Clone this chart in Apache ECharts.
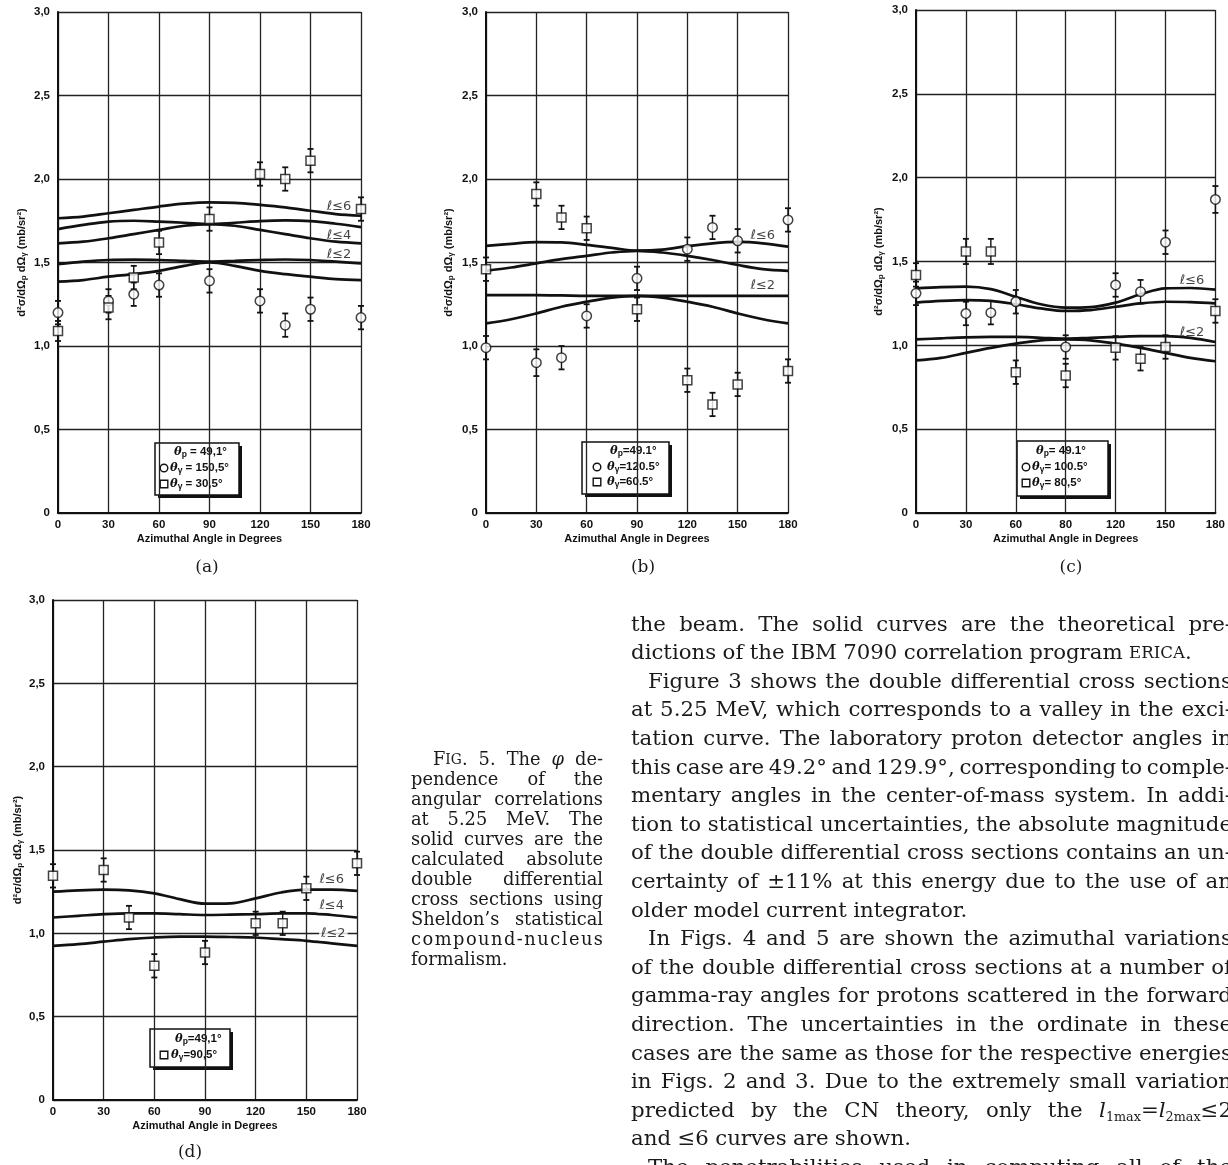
<!DOCTYPE html>
<html><head><meta charset="utf-8">
<script src="https://cdn.jsdelivr.net/npm/echarts@6/dist/echarts.min.js"></script>
<style>html,body{margin:0;padding:0;background:#fff}#c{width:1228px;height:1165px}</style>
</head><body><div id="c"></div>
<script>
// ---------------- DATA ----------------
const curveX = [0,15,30,45,60,75,90,105,120,135,150,165,180];
const xTicksStd = ['0','30','60','90','120','150','180'];
const xTicksC   = ['0','30','60','80','120','150','180'];
const yTicks    = ['0','0,5','1,0','1,5','2,0','2,5','3,0'];
const ptX  = [0,30,45,60,90,120,135,150,180];
const ptXd = [0,30,45,60,90,120,136,150,180];

// panel (a)
const aCurve1 = [1.765,1.775,1.795,1.815,1.835,1.852,1.86,1.857,1.845,1.83,1.81,1.79,1.78];
const aCurve2 = [1.70,1.725,1.745,1.75,1.745,1.738,1.73,1.738,1.748,1.752,1.748,1.732,1.712];
const aCurve3 = [1.615,1.625,1.645,1.67,1.695,1.72,1.73,1.72,1.695,1.67,1.645,1.625,1.615];
const aCurve4 = [1.49,1.505,1.515,1.517,1.515,1.51,1.505,1.51,1.515,1.518,1.515,1.505,1.495];
const aCurve5 = [1.385,1.395,1.415,1.43,1.45,1.48,1.50,1.48,1.45,1.43,1.415,1.40,1.395];
const aCirc = [1.20,1.27,1.31,1.365,1.39,1.27,1.125,1.22,1.17];
const aCircErr = [0.07,0.07,0.07,0.07,0.07,0.07,0.07,0.07,0.07];
const aSq = [1.09,1.23,1.41,1.62,1.76,2.03,2.00,2.11,1.82];
const aSqErr = [0.06,0.07,0.07,0.07,0.07,0.07,0.07,0.07,0.07];

// panel (b)
const bCurve1 = [1.60,1.612,1.622,1.62,1.606,1.588,1.571,1.577,1.598,1.615,1.623,1.615,1.595];
const bCurve2 = [1.45,1.47,1.495,1.52,1.54,1.56,1.57,1.56,1.54,1.515,1.485,1.46,1.45];
const bCurve3 = [1.305,1.305,1.305,1.303,1.30,1.30,1.30,1.30,1.30,1.30,1.30,1.30,1.30];
const bCurve4 = [1.135,1.16,1.195,1.235,1.265,1.29,1.30,1.29,1.265,1.235,1.195,1.16,1.135];
const bCirc = [0.99,0.90,0.93,1.18,1.405,1.58,1.71,1.63,1.755];
const bCircErr = [0.07,0.08,0.07,0.07,0.07,0.07,0.07,0.07,0.07];
const bSq = [1.46,1.91,1.77,1.705,1.22,0.795,0.65,0.77,0.85];
const bSqErr = [0.07,0.07,0.07,0.07,0.07,0.07,0.07,0.07,0.07];

// panel (c)
const cCurve1 = [1.34,1.347,1.35,1.335,1.29,1.245,1.225,1.228,1.255,1.305,1.34,1.342,1.332];
const cCurve2 = [1.255,1.265,1.27,1.265,1.245,1.22,1.205,1.21,1.23,1.25,1.26,1.258,1.25];
const cCurve3 = [1.035,1.042,1.048,1.05,1.05,1.045,1.04,1.045,1.05,1.055,1.055,1.045,1.02];
const cCurve4 = [0.91,0.925,0.955,0.985,1.01,1.03,1.035,1.03,1.01,0.985,0.955,0.925,0.905];
const cCirc = [1.31,1.19,1.195,1.26,0.99,1.36,1.32,1.615,1.87];
const cCircErr = [0.07,0.07,0.07,0.07,0.07,0.07,0.07,0.07,0.08];
const cSq = [1.42,1.56,1.56,0.84,0.82,0.985,0.92,0.99,1.205];
const cSqErr = [0.07,0.075,0.075,0.07,0.07,0.07,0.07,0.07,0.07];

// panel (d)
const dCurve1 = [1.25,1.258,1.262,1.258,1.24,1.205,1.178,1.18,1.21,1.245,1.262,1.262,1.255];
const dCurve2 = [1.095,1.105,1.115,1.12,1.12,1.115,1.11,1.112,1.115,1.12,1.12,1.11,1.095];
const dCurve3 = [0.925,0.935,0.95,0.965,0.975,0.98,0.98,0.978,0.975,0.965,0.955,0.94,0.925];
const dSq = [1.345,1.38,1.095,0.805,0.885,1.06,1.06,1.27,1.42];
const dSqErr = [0.07,0.07,0.07,0.07,0.07,0.07,0.07,0.07,0.07];

// curve label texts and anchors (data units)
const aLabels = ['ℓ≤6','ℓ≤4','ℓ≤2'];
const aLabelAt = [[167,1.835],[167,1.66],[167,1.545]];
const bLabels = ['ℓ≤6','ℓ≤2'];
const bLabelAt = [[165,1.663],[165,1.36]];
const cLabels = ['ℓ≤6','ℓ≤2'];
const cLabelAt = [[166,1.385],[166,1.075]];
const dLabels = ['ℓ≤6','ℓ≤4','ℓ≤2'];
const dLabelAt = [[165,1.32],[165,1.164],[166,0.996]];

// ---------------- TEXT ----------------
const bodyLines = [
 ['the beam. The solid curves are the theoretical pre-',1,0],
 ['dictions of the IBM 7090 correlation program {sc:ERICA}.',0,0],
 ['Figure 3 shows the double differential cross sections',1,1],
 ['at 5.25 MeV, which corresponds to a valley in the exci-',1,0],
 ['tation curve. The laboratory proton detector angles in',1,0],
 ['this case are 49.2° and 129.9°, corresponding to comple-',1,0],
 ['mentary angles in the center-of-mass system. In addi-',1,0],
 ['tion to statistical uncertainties, the absolute magnitude',1,0],
 ['of the double differential cross sections contains an un-',1,0],
 ['certainty of ±11% at this energy due to the use of an',1,0],
 ['older model current integrator.',0,0],
 ['In Figs. 4 and 5 are shown the azimuthal variations',1,1],
 ['of the double differential cross sections at a number of',1,0],
 ['gamma-ray angles for protons scattered in the forward',1,0],
 ['direction. The uncertainties in the ordinate in these',1,0],
 ['cases are the same as those for the respective energies',1,0],
 ['in Figs. 2 and 3. Due to the extremely small variation',1,0],
 ['predicted by the CN theory, only the {i:l}{sub:1max}={i:l}{sub:2max}≤2',1,0],
 ['and ≤6 curves are shown.',0,0],
 ['The penetrabilities used in computing all of the',1,1]
];
const captionLines = [
 ['F{sc:IG}. 5. The {i:φ} de-',1,1],
 ['pendence of the',1,0],
 ['angular correlations',1,0],
 ['at 5.25 MeV. The',1,0],
 ['solid curves are the',1,0],
 ['calculated absolute',1,0],
 ['double differential',1,0],
 ['cross sections using',1,0],
 ['Sheldon’s statistical',1,0],
 ['compound-nucleus',1,0],
 ['formalism.',0,0]
];

// ---------------- HELPERS ----------------
const cv = document.createElement('canvas').getContext('2d');
const FAM = '"DejaVu Serif"';
function segStyle(k, size){
  if(k==='sc') return {fs:size*0.78, st:'normal', dy:0};
  if(k==='i') return {fs:size, st:'italic', dy:0};
  if(k==='sub') return {fs:size*0.6, st:'normal', dy:size*0.3};
  return {fs:size, st:'normal', dy:0};
}
function parseWord(w){
  const segs=[]; const re=/\{(sc|i|sub):([^}]*)\}/g; let last=0,m;
  while((m=re.exec(w))){ if(m.index>last) segs.push({k:'n',t:w.slice(last,m.index)}); segs.push({k:m[1],t:m[2]}); last=re.lastIndex; }
  if(last<w.length) segs.push({k:'n',t:w.slice(last)});
  return segs;
}
function wordWidth(segs,size){
  let w=0; segs.forEach(s=>{const st=segStyle(s.k,size); cv.font=st.st+' normal '+st.fs+'px '+FAM; w+=cv.measureText(s.t).width;}); return w;
}
function layoutBlock(lines, x, right, y0, dy, base, indent){
  let maxR=0;
  lines.forEach(([t,j,ind])=>{ if(!j) return; const words=t.split(' ').map(parseWord);
    const nat=words.reduce((a,w)=>a+wordWidth(w,base),0)+ (words.length-1)*base*0.22;
    const avail=right-x-(ind?indent:0); maxR=Math.max(maxR,nat/avail); });
  const size = base*Math.min(1.08, 1/maxR);
  const out=[];
  lines.forEach(([t,j,ind],li)=>{
    const y=y0+li*dy; const x0=x+(ind?indent:0); const avail=right-x0;
    let words=t.split(' ').map(parseWord);
    if(words.length===1 && j){ words = Array.from(t).map(ch=>[{k:'n',t:ch}]); }
    const ww=words.map(w=>wordWidth(w,size));
    const tot=ww.reduce((a,b)=>a+b,0);
    const gap = (j && words.length>1) ? (avail-tot)/(words.length-1) : size*0.3;
    let cx=x0;
    words.forEach((w,wi)=>{
      let sx=cx;
      w.forEach(s=>{ const st=segStyle(s.k,size);
        out.push({type:'text', x:sx, y:y+st.dy, silent:true, style:{text:s.t, fontFamily:'DejaVu Serif', fontSize:st.fs, fontStyle:st.st, fill:'#1a1a1a', textAlign:'left', textVerticalAlign:'middle'}});
        cv.font=st.st+' normal '+st.fs+'px '+FAM; sx+=cv.measureText(s.t).width; });
      cx+=ww[wi]+gap;
    });
  });
  return out;
}
function legendBox(x,y,w,h,rows){
  const els=[
    {type:'rect', shape:{x:x+3,y:y+3,width:w,height:h}, style:{fill:'#111'}, silent:true},
    {type:'rect', shape:{x:x,y:y,width:w,height:h}, style:{fill:'#fff',stroke:'#111',lineWidth:1.5}, silent:true}
  ];
  rows.forEach(r=>{
    if(r.sym==='circle') els.push({type:'circle', shape:{cx:r.sx,cy:r.y,r:3.8}, style:{fill:'#fff',stroke:'#111',lineWidth:1.4}, silent:true});
    if(r.sym==='rect') els.push({type:'rect', shape:{x:r.sx-3.8,y:r.y-3.8,width:7.6,height:7.6}, style:{fill:'#fff',stroke:'#111',lineWidth:1.4}, silent:true});
    els.push({type:'text', x:r.tx, y:r.y, silent:true, style:{
      text:'{t|θ}{s|'+r.sub+'}{n|'+r.rest+'}', textAlign:'left', textVerticalAlign:'middle',
      rich:{t:{fontFamily:'DejaVu Serif',fontStyle:'italic',fontWeight:'bold',fontSize:11.5,fill:'#111'},
            s:{fontFamily:'Liberation Sans',fontWeight:'bold',fontSize:8.5,fill:'#111',padding:[5,0,0,0]},
            n:{fontFamily:'Liberation Sans',fontWeight:'bold',fontSize:11.5,fill:'#111'}}}});
  });
  return els;
}
const errRender = function(params, api){
  const x=api.value(0), y=api.value(1), e=api.value(2);
  const p1=api.coord([x,y+e]), p2=api.coord([x,y-e]);
  const st={stroke:'#111',lineWidth:1.4};
  return {type:'group', children:[
    {type:'line', shape:{x1:p1[0],y1:p1[1],x2:p2[0],y2:p2[1]}, style:st},
    {type:'line', shape:{x1:p1[0]-3,y1:p1[1],x2:p1[0]+3,y2:p1[1]}, style:{stroke:'#111',lineWidth:1.8}},
    {type:'line', shape:{x1:p2[0]-3,y1:p2[1],x2:p2[0]+3,y2:p2[1]}, style:{stroke:'#111',lineWidth:1.8}}
  ]};
};

// ---------------- PANELS ----------------
const panels = [
  {grid:{left:58, top:12, width:303, height:501}, xt:xTicksStd, curves:[aCurve1,aCurve2,aCurve3,aCurve4,aCurve5],
   pts:[{x:ptX,y:aCirc,e:aCircErr,sym:'circle'},{x:ptX,y:aSq,e:aSqErr,sym:'rect'}], labels:aLabels, labelAt:aLabelAt, nameGap:30},
  {grid:{left:486, top:12, width:302, height:501}, xt:xTicksStd, curves:[bCurve1,bCurve2,bCurve3,bCurve4],
   pts:[{x:ptX,y:bCirc,e:bCircErr,sym:'circle'},{x:ptX,y:bSq,e:bSqErr,sym:'rect'}], labels:bLabels, labelAt:bLabelAt, nameGap:31},
  {grid:{left:916, top:10, width:303, height:503}, xt:xTicksC, curves:[cCurve1,cCurve2,cCurve3,cCurve4],
   pts:[{x:ptX,y:cCirc,e:cCircErr,sym:'circle'},{x:ptX,y:cSq,e:cSqErr,sym:'rect'}], labels:cLabels, labelAt:cLabelAt, nameGap:31},
  {grid:{left:53, top:600, width:304, height:500}, xt:xTicksStd, curves:[dCurve1,dCurve2,dCurve3],
   pts:[{x:ptXd,y:dSq,e:dSqErr,sym:'rect'}], labels:dLabels, labelAt:dLabelAt, nameGap:29}
];
const labFont = {fontFamily:'Liberation Sans', fontWeight:'bold', fontSize:11.5, color:'#111'};
const yName = '{n|d²σ/dΩ}{s|p}{n| dΩ}{s|γ}{n| (mb/sr²)}';
const series=[];
panels.forEach((p,i)=>{
  p.curves.forEach(c=>series.push({type:'line', xAxisIndex:i, yAxisIndex:i, smooth:0.35, showSymbol:false, silent:true, z:2,
    data:curveX.map((x,k)=>[x,c[k]]), lineStyle:{color:'#111', width:2.7}}));
  p.pts.forEach(s=>{
    series.push({type:'custom', xAxisIndex:i, yAxisIndex:i, z:3, silent:true, renderItem:errRender, encode:{x:0,y:1},
      data:s.x.map((x,k)=>[x,s.y[k],s.e[k]]), clip:false});
    series.push({type:'scatter', xAxisIndex:i, yAxisIndex:i, z:4, silent:true, symbol:s.sym, symbolSize:s.sym==='rect'?9:9.5,
      data:s.x.map((x,k)=>[x,s.y[k]]), itemStyle:{color:'#fff', borderColor:'#111', borderWidth:1.5}});
  });
  series.push({type:'scatter', xAxisIndex:i, yAxisIndex:i, z:5, silent:true, symbolSize:0,
    data:p.labels.map((t,k)=>({name:t, value:p.labelAt[k]})),
    label:{show:true, position:'inside', formatter:'{b}', fontFamily:'DejaVu Sans', fontSize:13, color:'#111',
      backgroundColor: i===3?'#fff':'transparent', padding:[0,2]}});
});

const graphic = [];
layoutBlock(bodyLines, 631, 1232, 625, 28.6, 20, 17).forEach(e=>graphic.push(e));
layoutBlock(captionLines, 411, 603, 760, 20.0, 16.5, 22).forEach(e=>graphic.push(e));
[['(a)',207,568],['(b)',643,568],['(c)',1071,568],['(d)',190,1153]].forEach(([t,x,y])=>graphic.push(
  {type:'text', x:x, y:y, silent:true, style:{text:t, fontFamily:'DejaVu Serif', fontSize:17, fill:'#1a1a1a', textAlign:'center', textVerticalAlign:'middle'}}));
legendBox(155,443,84,52,[{sub:'p',rest:' = 49,1°',tx:174,y:452},{sym:'circle',sx:164,sub:'γ',rest:' = 150,5°',tx:170,y:468},{sym:'rect',sx:164,sub:'γ',rest:' = 30,5°',tx:170,y:484}]).forEach(e=>graphic.push(e));
legendBox(582,442,87,52,[{sub:'p',rest:'=49.1°',tx:610,y:451},{sym:'circle',sx:597,sub:'γ',rest:'=120.5°',tx:607,y:467},{sym:'rect',sx:597,sub:'γ',rest:'=60.5°',tx:607,y:482}]).forEach(e=>graphic.push(e));
legendBox(1017,441,91,55,[{sub:'p',rest:'= 49.1°',tx:1036,y:451},{sym:'circle',sx:1026,sub:'γ',rest:'= 100.5°',tx:1032,y:467},{sym:'rect',sx:1026,sub:'γ',rest:'= 80,5°',tx:1032,y:483}]).forEach(e=>graphic.push(e));
legendBox(150,1029,80,38,[{sub:'p',rest:'=49,1°',tx:175,y:1039},{sym:'rect',sx:164,sub:'γ',rest:'=90,5°',tx:171,y:1055}]).forEach(e=>graphic.push(e));

const option = {
  animation:false, backgroundColor:'#fff',
  grid: panels.map(p=>Object.assign({containLabel:false}, p.grid)),
  xAxis: panels.map((p,i)=>({gridIndex:i, type:'value', min:0, max:180, interval:30,
    name:'Azimuthal Angle in Degrees', nameLocation:'middle', nameGap:20, nameTextStyle:Object.assign({},labFont,{fontSize:11}),
    axisLine:{show:true, lineStyle:{color:'#111', width:2}}, axisTick:{show:false},
    axisLabel:Object.assign({margin:6, formatter:(v)=>p.xt[Math.round(v/30)]}, labFont),
    splitLine:{show:true, showMinLine:true, showMaxLine:true, lineStyle:{color:'#222', width:1.3}}})),
  yAxis: panels.map((p,i)=>({gridIndex:i, type:'value', min:0, max:3, interval:0.5,
    name:yName, nameLocation:'middle', nameGap:p.nameGap, nameRotate:90,
    nameTextStyle:{rich:{n:{fontFamily:'Liberation Sans', fontWeight:'bold', fontSize:11, color:'#111'},
                         s:{fontFamily:'Liberation Sans', fontWeight:'bold', fontSize:8, color:'#111', padding:[5,0,0,0]}}},
    axisLine:{show:true, lineStyle:{color:'#111', width:2}}, axisTick:{show:false},
    axisLabel:Object.assign({margin:8, formatter:(v)=>yTicks[Math.round(v/0.5)]}, labFont),
    splitLine:{show:true, showMinLine:true, showMaxLine:true, lineStyle:{color:'#222', width:1.3}}})),
  series: series,
  graphic: graphic
};
const chart = echarts.init(document.getElementById('c'), null, {renderer:'canvas'});
chart.setOption(option);
</script></body></html>
